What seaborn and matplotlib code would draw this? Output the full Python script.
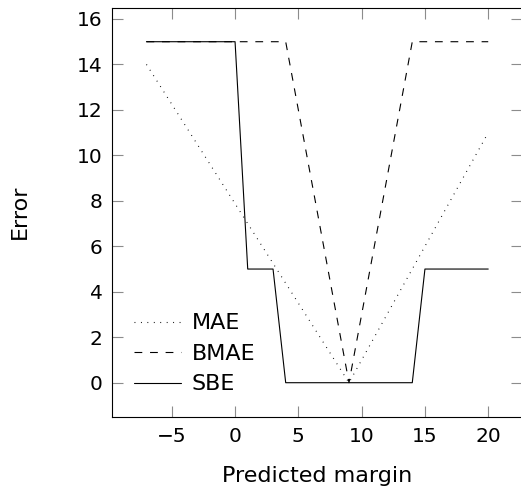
import matplotlib
matplotlib.use("Agg")
import matplotlib.pyplot as plt
import seaborn as sns
import pandas as pd

# error curves
mae_x = [-7, 9, 20]
mae_y = [14, 0, 11]

bmae_x = [-7, 4, 9, 14, 20]
bmae_y = [15, 15, 0, 15, 15]

sbe_x = [-7, 0, 1, 3, 4, 14, 15, 20]
sbe_y = [15, 15, 5, 5, 0, 0, 5, 5]

x_ticks = [-5, 0, 5, 10, 15, 20]
y_ticks = [0, 2, 4, 6, 8, 10, 12, 14, 16]

sns.set_style("ticks")
plt.rcParams['font.family'] = ['DejaVu Sans']
plt.rcParams['font.size'] = 14
plt.rcParams['text.color'] = 'black'
plt.rcParams['axes.labelcolor'] = 'black'
plt.rcParams['xtick.labelcolor'] = 'black'
plt.rcParams['ytick.labelcolor'] = 'black'

fig = plt.figure(figsize=(5.21, 4.91), dpi=100)
ax = fig.add_axes([0.2155, 0.1511, 0.7872, 0.8334])

series = [
    ("MAE", mae_x, mae_y, (0, (0.8, 5.0))),
    ("BMAE", bmae_x, bmae_y, (0, (7, 7))),
    ("SBE", sbe_x, sbe_y, "-"),
]
for name, xs, ys, ls in series:
    df = pd.DataFrame({"x": xs, "y": ys})
    sns.lineplot(data=df, x="x", y="y", ax=ax, color="black", lw=0.8,
                 linestyle=ls, label=name, sort=False)

ax.set_xlim(-9.7, 22.7)
ax.set_ylim(-1.5, 16.5)
ax.set_xticks(x_ticks)
ax.set_yticks(y_ticks)
ax.set_xticklabels([f"\u2212{abs(v)}" if v < 0 else str(v) for v in x_ticks])

ax.tick_params(axis="both", which="major", direction="in", length=8,
               width=0.8, color="#8c8c8c", labelsize=14.5,
               labelcolor="black", top=True, right=True)
ax.tick_params(axis="x", pad=7)
ax.tick_params(axis="y", pad=7)
for sp in ax.spines.values():
    sp.set_visible(True)
    sp.set_linewidth(0.8)
    sp.set_color("black")

ax.set_xlabel("Predicted margin", fontsize=16, labelpad=15, color="black")
ax.set_ylabel("Error", fontsize=16, labelpad=34, color="black")

leg = ax.legend(loc="lower left", bbox_to_anchor=(0.053, 0.055),
                frameon=False, fontsize=16, handlelength=2.1,
                handletextpad=0.5, labelspacing=0.47, borderpad=0,
                borderaxespad=0)
for t in leg.get_texts():
    t.set_color("black")

fig.savefig("out.png", dpi=100)
